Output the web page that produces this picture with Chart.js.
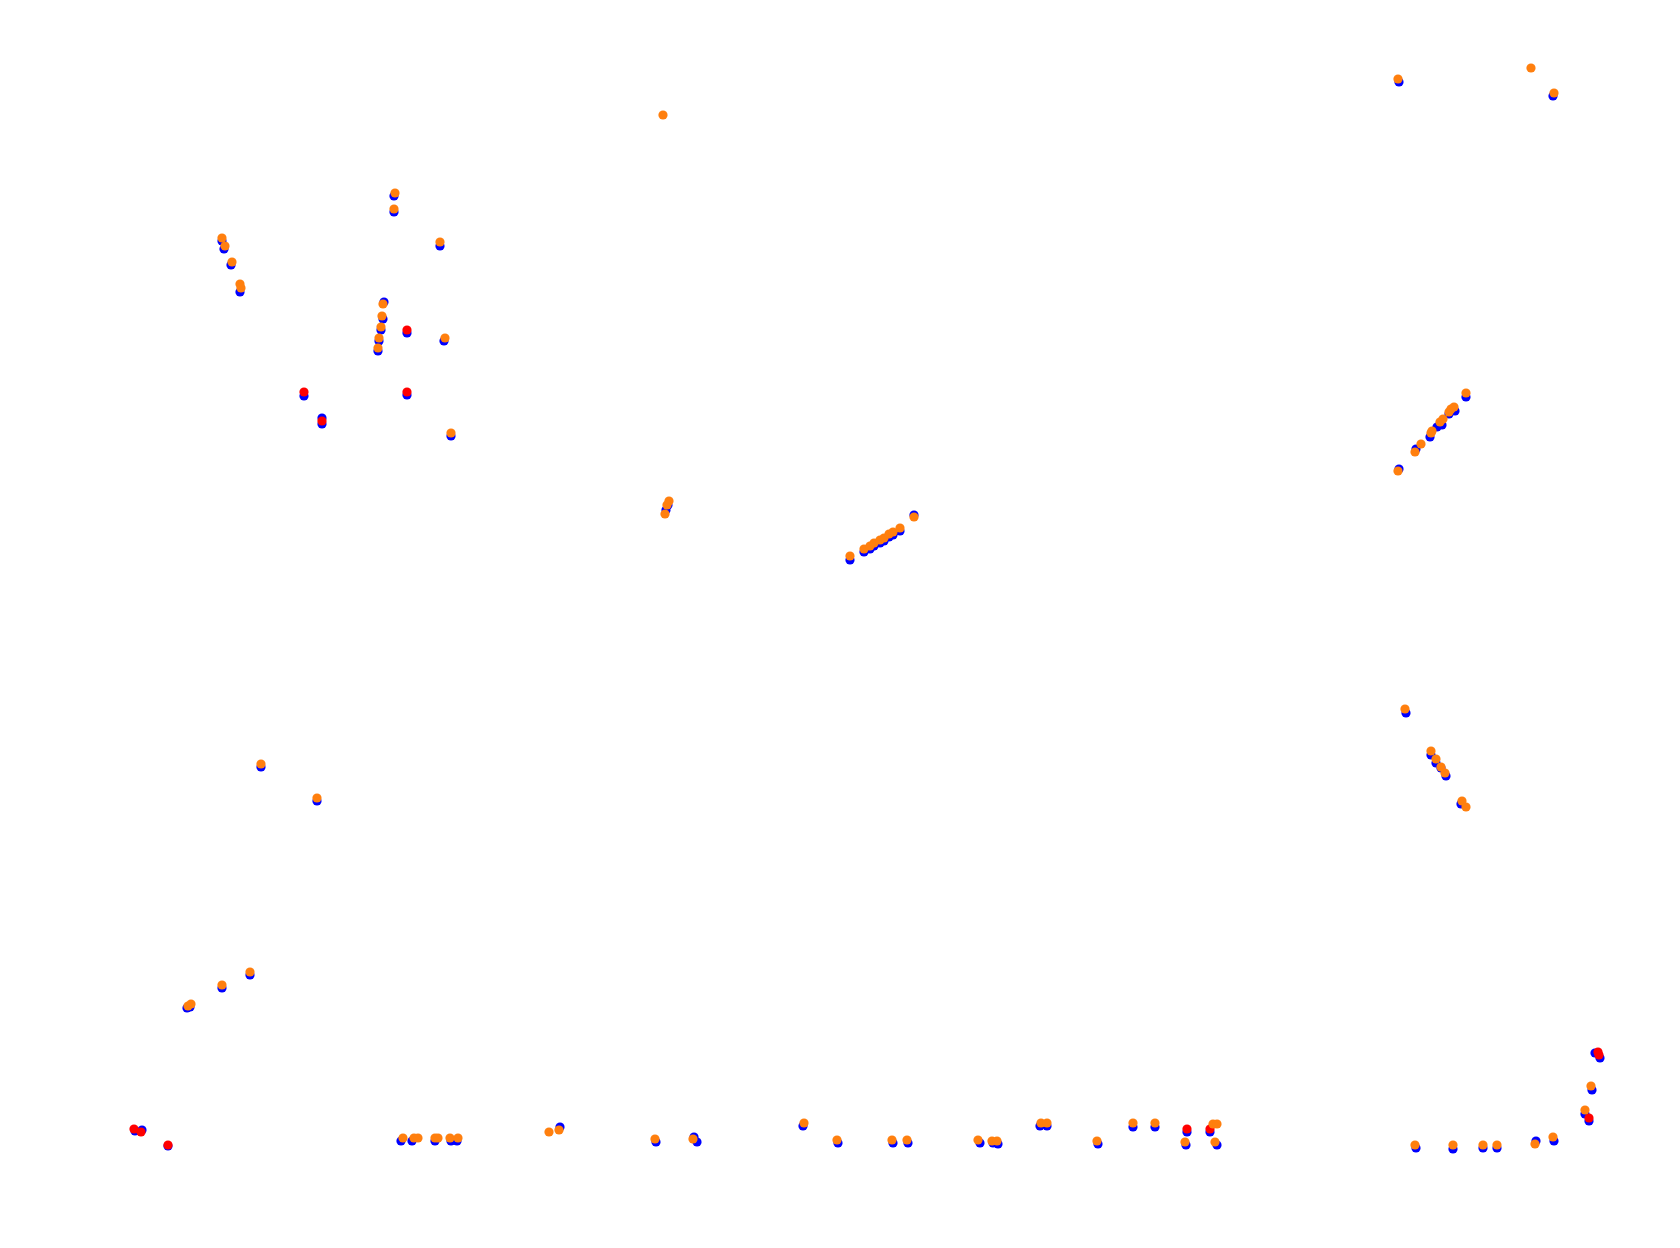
<!DOCTYPE html>
<html>
<head>
<meta charset="utf-8">
<script src="https://cdn.jsdelivr.net/npm/chart.js@4/dist/chart.umd.min.js"></script>
<style>
  html, body { margin: 0; padding: 0; background: #fff; }
  #wrap { width: 1680px; height: 1248px; }
</style>
</head>
<body>
<div id="wrap"><canvas id="trackChart" width="1680" height="1248"></canvas></div>
<script>
// Positions (x, y ; y vers le bas)
var blueX = [222, 224, 231, 240, 394, 394, 440, 384, 383, 381, 379, 378, 444, 451, 407, 304, 407, 322, 322,
  668, 666,
  850, 864, 870, 874, 880, 884, 889, 893, 900, 914,
  1399, 1553,
  1399, 1416, 1430, 1437, 1442, 1449, 1455, 1466,
  1406, 1431, 1436, 1441, 1446, 1461,
  261, 317,
  187, 190, 222, 250,
  135, 142, 168, 401, 412, 435, 451, 457, 560, 656, 694, 697, 803, 838, 893, 908, 980, 993, 998,
  1040, 1047, 1098, 1133, 1155, 1187, 1186, 1210, 1217, 1416, 1453, 1483, 1497, 1536, 1554,
  1595, 1600, 1592, 1585, 1589];
var blueY = [241, 249, 265, 292, 196, 212, 246, 302, 319, 330, 341, 351, 341, 436, 333, 396, 395, 418, 424,
  505, 510,
  560, 552, 549, 546, 543, 541, 537, 535, 531, 515,
  82, 96,
  469, 449, 437, 427, 425, 414, 411, 397,
  713, 755, 763, 768, 776, 804,
  767, 801,
  1008, 1007, 988, 975,
  1131, 1130, 1146, 1141, 1141, 1141, 1141, 1141, 1127, 1142, 1137, 1142, 1126, 1143, 1143, 1143, 1143, 1143, 1144,
  1126, 1126, 1144, 1127, 1127, 1132, 1145, 1132, 1145, 1148, 1149, 1148, 1148, 1141, 1141,
  1053, 1058, 1090, 1114, 1121];

var redX = [304, 322, 407, 407, 134, 141, 168, 1187, 1210, 1598, 1599, 1589];
var redY = [392, 421, 330, 392, 1129, 1132, 1145, 1129, 1129, 1052, 1055, 1118];

var orangeX = [222, 225, 232, 240, 241, 395, 394, 440, 383, 382, 381, 379, 378, 445, 451, 663,
  669, 667, 665,
  850, 864, 870, 874, 880, 884, 889, 893, 900, 914,
  1398, 1531, 1554,
  1398, 1415, 1421, 1431, 1432, 1440, 1443, 1449, 1451, 1454, 1466,
  1405, 1431, 1436, 1441, 1445, 1462, 1466,
  261, 317,
  188, 191, 222, 250,
  403, 414, 418, 435, 438, 450, 458, 549, 559, 655, 693, 804, 837, 892, 907, 978, 992, 997,
  1041, 1047, 1097, 1133, 1155, 1185, 1213, 1217, 1215, 1415, 1453, 1483, 1497, 1535, 1553,
  1591, 1585];
var orangeY = [238, 246, 262, 284, 288, 193, 209, 242, 304, 316, 327, 338, 348, 338, 433, 115,
  501, 505, 514,
  556, 549, 546, 543, 540, 538, 534, 532, 528, 517,
  79, 68, 93,
  471, 452, 444, 433, 431, 422, 419, 412, 409, 407, 393,
  709, 751, 759, 767, 773, 801, 807,
  764, 798,
  1006, 1004, 985, 972,
  1138, 1138, 1138, 1138, 1138, 1138, 1138, 1132, 1130, 1139, 1139, 1123, 1140, 1140, 1140, 1140, 1141, 1141,
  1123, 1123, 1141, 1123, 1123, 1142, 1124, 1124, 1142, 1145, 1145, 1145, 1145, 1144, 1137,
  1086, 1110];

function toPoints(xs, ys) {
  return xs.map(function(x, i) { return { x: x, y: ys[i] }; });
}

function makeSet(label, xs, ys, color, order) {
  return {
    label: label,
    data: toPoints(xs, ys),
    backgroundColor: color,
    borderWidth: 0,
    pointRadius: 4.6,
    pointHoverRadius: 4.6,
    order: order
  };
}

var ctx = document.getElementById("trackChart");
var myChart = new Chart(ctx, {
  type: 'scatter',
  data: {
    datasets: [
      makeSet('blue', blueX, blueY, 'rgb(0,0,255)', 3),
      makeSet('red', redX, redY, 'rgb(255,0,0)', 2),
      makeSet('orange', orangeX, orangeY, 'rgb(255,127,14)', 1)
    ]
  },
  options: {
    responsive: false,
    animation: false,
    events: [],
    layout: { padding: 0, autoPadding: false },
    scales: {
      x: { display: false, min: 0, max: 1680 },
      y: { display: false, min: 0, max: 1248, reverse: true }
    },
    plugins: {
      legend: { display: false },
      tooltip: { enabled: false }
    }
  }
});
</script>
</body>
</html>
